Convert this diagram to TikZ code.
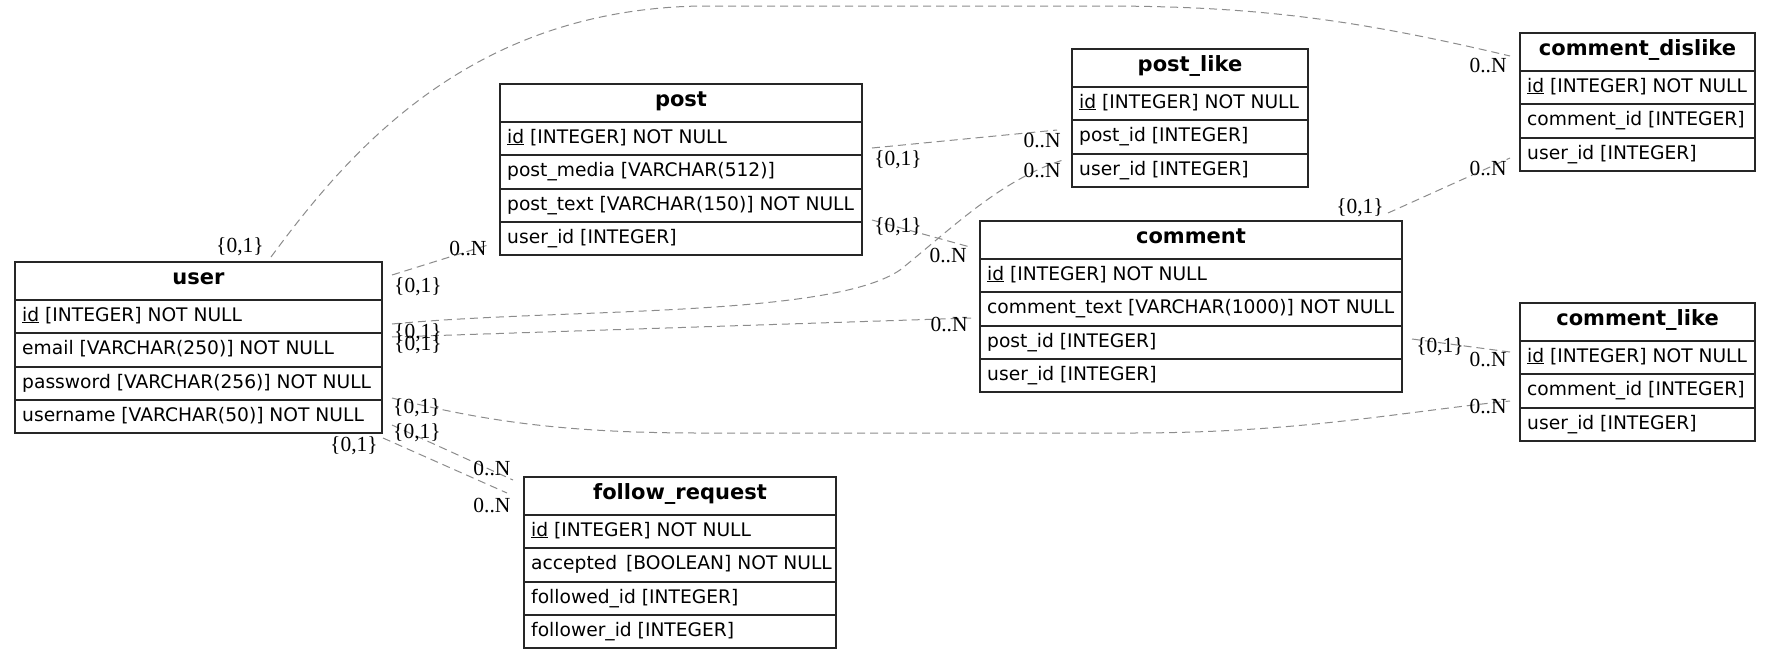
\documentclass[tikz,border=0pt]{standalone}
\usepackage{fontspec}
\setmainfont{DejaVu Sans}
\newfontfamily\lblfont{Liberation Serif}
\usetikzlibrary{calc}
\tikzset{
  tabframe/.style={draw=black!85, line width=1.3pt, inner sep=0pt, outer sep=0pt, anchor=north west},
  rowline/.style={draw=black!85, line width=1.3pt},
  rowtext/.style={anchor=base west, inner sep=0pt, font=\fontsize{18.67}{22}\selectfont},
  headtext/.style={anchor=base, inner sep=0pt, font=\fontsize{21}{24}\selectfont\bfseries},
  rel/.style={draw=gray!90, dash pattern=on 8pt off 5pt, line width=1pt},
  card/.style={font=\lblfont\fontsize{21.5}{24}\selectfont, inner sep=0pt},
}
\newcommand\ertab[7]{%
  \pgfmathsetmacro\erh{round(38+#5*33.3)}
  \node[tabframe, minimum width=#4pt, minimum height=\erh pt] (#1) at (#2,#3) {};
  \node[headtext] (#1-title) at ({#2+#4/2},{#3+22.5}) {#6};
  \foreach \r [count=\i] in {#7} {
    \pgfmathsetmacro\ry{round(#3+38+(\i-1)*33.3)}
    \draw[rowline] (#2,\ry) -- ++(#4,0);
    \node[rowtext] (#1-r\i) at ({#2+7},{\ry+21}) {\r};
  }
}
\begin{document}
\begin{tikzpicture}[x=1pt,y=-1pt]
\useasboundingbox (0,0) rectangle (1771,659);
\fill[white] (0,0) rectangle (1771,659);

\ertab{user}{15}{262}{367}{4}{user}{{\underline{id} [INTEGER] NOT NULL},{email [VARCHAR(250)] NOT NULL},{password [VARCHAR(256)] NOT NULL},{username [VARCHAR(50)] NOT NULL}}
\ertab{post}{500}{84}{362}{4}{post}{{\underline{id} [INTEGER] NOT NULL},{post\_media [VARCHAR(512)]},{post\_text [VARCHAR(150)] NOT NULL},{user\_id [INTEGER]}}
\ertab{postlike}{1072}{49}{236}{3}{post\_like}{{\underline{id} [INTEGER] NOT NULL},{post\_id [INTEGER]},{user\_id [INTEGER]}}
\ertab{cdislike}{1520}{33}{235}{3}{comment\_dislike}{{\underline{id} [INTEGER] NOT NULL},{comment\_id [INTEGER]},{user\_id [INTEGER]}}
\ertab{comment}{980}{221}{422}{4}{comment}{{\underline{id} [INTEGER] NOT NULL},{comment\_text [VARCHAR(1000)] NOT NULL},{post\_id [INTEGER]},{user\_id [INTEGER]}}
\ertab{clike}{1520}{303}{235}{3}{comment\_like}{{\underline{id} [INTEGER] NOT NULL},{comment\_id [INTEGER]},{user\_id [INTEGER]}}
\ertab{follow}{524}{477}{312}{4}{follow\_request}{{\underline{id} [INTEGER] NOT NULL},{accepted\hspace{3pt} [BOOLEAN] NOT NULL},{followed\_id [INTEGER]},{follower\_id [INTEGER]}}

% connector end points
\coordinate (e1a) at (271,257);  \coordinate (e1b) at (1510,56);
\coordinate (e2a) at (392,275);  \coordinate (e2b) at (488,245);
\coordinate (e3a) at (392,324);  \coordinate (e3b) at (1063,160);
\coordinate (e4a) at (392,337);  \coordinate (e4b) at (971,318);
\coordinate (e5a) at (392,398);  \coordinate (e5b) at (1510,401);
\coordinate (e6a) at (392,425);  \coordinate (e6b) at (513,480);
\coordinate (e7a) at (383,438);  \coordinate (e7b) at (507,493);
\coordinate (e8a) at (872,148);  \coordinate (e8b) at (1057,130);
\coordinate (e9a) at (872,220);  \coordinate (e9b) at (970,247);
\coordinate (e10a) at (1388,213); \coordinate (e10b) at (1510,158);
\coordinate (e11a) at (1412,339); \coordinate (e11b) at (1510,352);

\draw[rel] (e1a) .. controls (350,150) and (470,10) .. (700,6) -- (1100,6) .. controls (1250,6) and (1350,18) .. (e1b);
\draw[rel] (e2a) -- (e2b);
\draw[rel] (e3a) .. controls (560,308) and (830,318) .. (900,270) .. controls (950,230) and (1000,180) .. (e3b);
\draw[rel] (e4a) -- (e4b);
\draw[rel] (e5a) .. controls (480,420) and (560,433) .. (700,433) -- (1130,433) .. controls (1300,433) and (1400,412) .. (e5b);
\draw[rel] (e6a) -- (e6b);
\draw[rel] (e7a) -- (e7b);
\draw[rel] (e8a) -- (e8b);
\draw[rel] (e9a) -- (e9b);
\draw[rel] (e10a) -- (e10b);
\draw[rel] (e11a) -- (e11b);

% cardinality labels
\node[card] (l1a) at (240,247) {\{0,1\}};   \node[card] (l1b) at (1488,65) {0..N};
\node[card] (l2a) at (418,287) {\{0,1\}};   \node[card] (l2b) at (468,248) {0..N};
\node[card] (l3a) at (418,333) {\{0,1\}};   \node[card] (l3b) at (1042,170) {0..N};
\node[card] (l4a) at (418,345) {\{0,1\}};   \node[card] (l4b) at (949,324) {0..N};
\node[card] (l5a) at (417,408) {\{0,1\}};   \node[card] (l5b) at (1488,406) {0..N};
\node[card] (l6a) at (417,433) {\{0,1\}};   \node[card] (l6b) at (492,468) {0..N};
\node[card] (l7a) at (354,446) {\{0,1\}};   \node[card] (l7b) at (492,505) {0..N};
\node[card] (l8a) at (898,160) {\{0,1\}};   \node[card] (l8b) at (1042,140) {0..N};
\node[card] (l9a) at (898,227) {\{0,1\}};   \node[card] (l9b) at (948,255) {0..N};
\node[card] (l10a) at (1360,208) {\{0,1\}}; \node[card] (l10b) at (1488,168) {0..N};
\node[card] (l11a) at (1440,347) {\{0,1\}}; \node[card] (l11b) at (1488,359) {0..N};
\end{tikzpicture}
\end{document}
